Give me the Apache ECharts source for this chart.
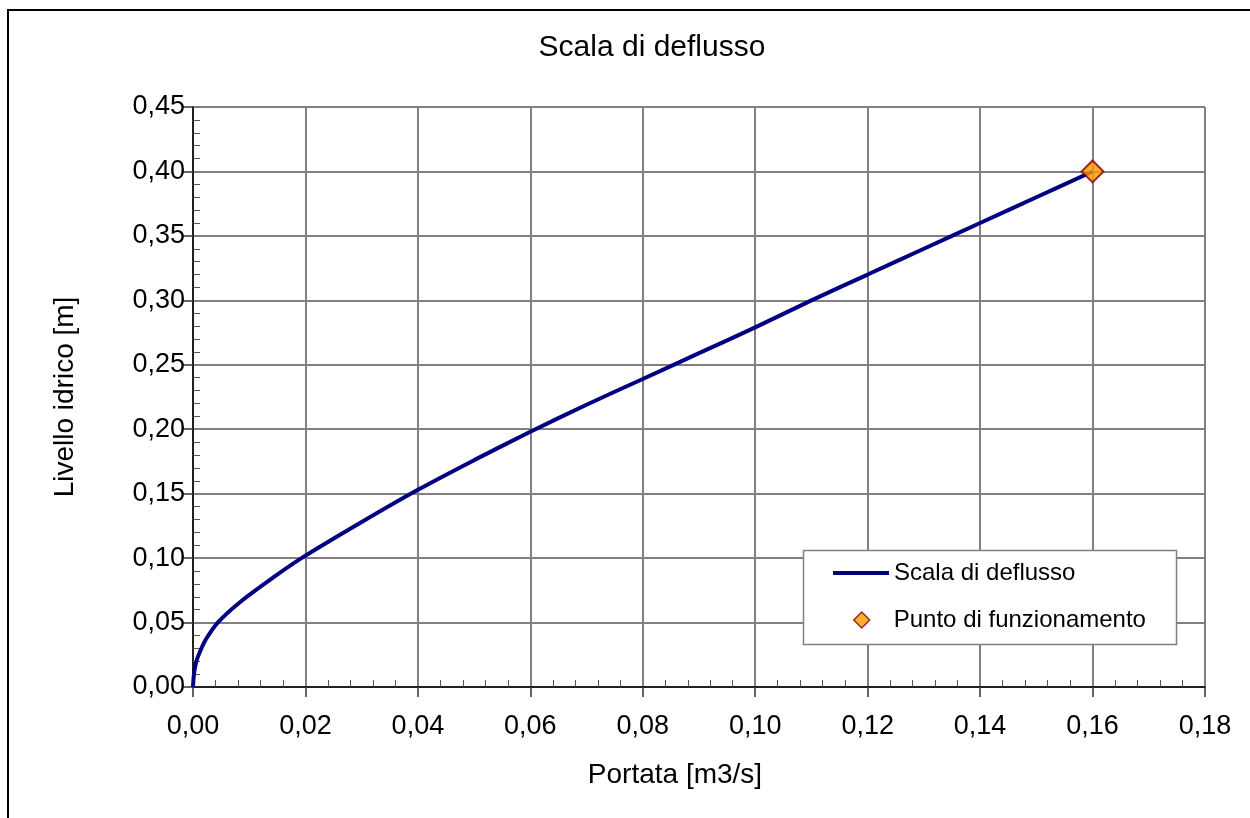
<!DOCTYPE html>
<html>
<head>
<meta charset="utf-8">
<title>Scala di deflusso</title>
<script src="https://cdn.jsdelivr.net/npm/echarts@6.0.0/dist/echarts.min.js"></script>
<style>
  html, body { margin: 0; padding: 0; background: #ffffff; }
  #chart { width: 1250px; height: 818px; }
</style>
</head>
<body>
<div id="chart"></div>
<script>
// Rating curve: discharge [m3/s] against water level [m]
const portata = [0, 0.0002, 0.0006, 0.0012, 0.0023, 0.0044, 0.0084, 0.0146, 0.0193, 0.030,
                 0.040, 0.050, 0.060, 0.070, 0.080, 0.090, 0.100, 0.110, 0.120, 0.130,
                 0.140, 0.150, 0.160];
const livello = [0, 0.011, 0.020, 0.027, 0.037, 0.050, 0.066, 0.086, 0.100, 0.128,
                 0.153, 0.176, 0.198, 0.219, 0.239, 0.259, 0.279, 0.300, 0.320, 0.340,
                 0.360, 0.380, 0.400];
// Operating point [Q, h]
const puntoPortata = [0.16];
const puntoLivello = [0.40];

const xTicks = { min: 0, max: 0.18, step: 0.02 };
const yTicks = { min: 0, max: 0.45, step: 0.05 };

const FONT = '"Liberation Sans", Arial, sans-serif';
const fmt = v => v.toFixed(2).replace('.', ',');

const curveData = portata.map((q, i) => [q, livello[i]]);
const pointData = puntoPortata.map((q, i) => [q, puntoLivello[i]]);

const gridColor = '#808080';

const chart = echarts.init(document.getElementById('chart'), null, { renderer: 'canvas' });

const minorAxis = (extent, position) => ({
  // minor ticks pointing into the plot area
  type: 'value', min: extent.min, max: extent.max, interval: extent.step,
  position: position, offset: 0,
  axisLine: { show: false, onZero: false },
  axisTick: { show: false, inside: true },
  axisLabel: { show: false },
  splitLine: { show: false },
  minorTick: { show: true, splitNumber: 5, length: 7, lineStyle: { color: '#555', width: 1 } }
});

const mainAxis = (extent, position, margin) => ({
  type: 'value', min: extent.min, max: extent.max, interval: extent.step,
  position: position,
  axisLine: { show: true, onZero: false, lineStyle: { color: '#000', width: 1.5 } },
  axisTick: { show: true, inside: false, length: 10, lineStyle: { color: '#333', width: 1.5 } },
  axisLabel: { show: true, margin: margin, formatter: fmt, fontFamily: FONT, fontSize: 27, color: '#000' },
  splitLine: { show: true, lineStyle: { color: gridColor, width: 2 } },
  minorTick: { show: false }
});

chart.setOption({
  backgroundColor: '#ffffff',
  animation: false,
  grid: { left: 193, top: 107, width: 1012, height: 580, outerBoundsMode: 'none' },
  xAxis: [ mainAxis(xTicks, 'bottom', 26), minorAxis(xTicks, 'bottom') ],
  yAxis: [ mainAxis(yTicks, 'left', 8), minorAxis(yTicks, 'left') ],
  legend: [
    {
      orient: 'vertical',
      left: 833, top: 558,
      padding: 0,
      itemWidth: 56, itemHeight: 4,
      selectedMode: false,
      z: 10,
      textStyle: { fontFamily: FONT, fontSize: 24, color: '#000', lineHeight: 30 },
      data: [
        { name: 'Scala di deflusso', icon: 'rect',
          itemStyle: { color: '#000080', borderWidth: 0 } }
      ]
    },
    {
      orient: 'vertical',
      left: 853, top: 605,
      padding: 0,
      itemWidth: 16, itemHeight: 16,
      selectedMode: false,
      z: 10,
      textStyle: { fontFamily: FONT, fontSize: 24, color: '#000', lineHeight: 30, padding: [0, 0, 0, 19] },
      data: [
        { name: 'Punto di funzionamento', icon: 'diamond',
          itemStyle: { color: '#FF9900', borderColor: '#800000', borderWidth: 1.5 } }
      ]
    }
  ],
  graphic: [
    { type: 'rect', z: -10, silent: true,
      shape: { x: 8, y: 10, width: 1400, height: 1000 },
      style: { fill: 'none', stroke: '#000', lineWidth: 2 } },
    { type: 'rect', z: 9, silent: true,
      shape: { x: 803.5, y: 550.5, width: 373, height: 94 },
      style: { fill: '#ffffff', stroke: '#808080', lineWidth: 1.5 } },
    { type: 'text', x: 652, y: 48, silent: true,
      style: { text: 'Scala di deflusso', fill: '#000', font: '30px ' + FONT,
               align: 'center', verticalAlign: 'middle', textAlign: 'center', textVerticalAlign: 'middle' } },
    { type: 'text', x: 675, y: 775, silent: true,
      style: { text: 'Portata [m3/s]', fill: '#000', font: '28px ' + FONT,
               align: 'center', verticalAlign: 'middle', textAlign: 'center', textVerticalAlign: 'middle' } },
    { type: 'text', x: 65, y: 397, rotation: Math.PI / 2, silent: true,
      style: { text: 'Livello idrico [m]', fill: '#000', font: '28px ' + FONT,
               align: 'center', verticalAlign: 'middle', textAlign: 'center', textVerticalAlign: 'middle' } }
  ],
  series: [
    {
      name: 'Scala di deflusso',
      type: 'line',
      xAxisIndex: 0, yAxisIndex: 0,
      data: curveData,
      showSymbol: false,
      smooth: 0.3,
      lineStyle: { color: '#000080', width: 4 },
      itemStyle: { color: '#000080' },
      z: 3
    },
    {
      name: 'Punto di funzionamento',
      type: 'scatter',
      xAxisIndex: 0, yAxisIndex: 0,
      data: pointData,
      symbol: 'diamond',
      symbolSize: 22,
      itemStyle: { color: '#FF9900', borderColor: '#800000', borderWidth: 2 },
      z: 4
    }
  ]
});
</script>
</body>
</html>
